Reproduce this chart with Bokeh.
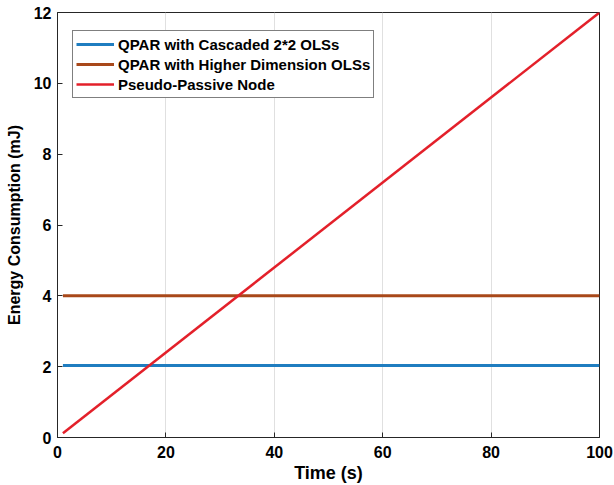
from bokeh.plotting import figure
from bokeh.models import Range1d, Legend, LegendItem, FixedTicker
from bokeh.embed import file_html
from bokeh.resources import INLINE

time_s = [1, 100]
cascaded = [2.03, 2.03]
higher_dim = [4.0, 4.0]
pseudo_passive = [0.12, 12.0]
labels = ["QPAR with Cascaded 2*2 OLSs", "QPAR with Higher Dimension OLSs", "Pseudo-Passive Node"]
colors = ["#1F7DC0", "#A8481A", "#E3202A"]
x_ticks = [0, 20, 40, 60, 80, 100]
y_ticks = [0, 2, 4, 6, 8, 10, 12]

FONT = "Liberation Sans"

p = figure(width=614, height=485, output_backend="svg", toolbar_location=None,
           x_range=Range1d(0, 100), y_range=Range1d(0, 12),
           min_border_left=57, min_border_right=15, min_border_top=12, min_border_bottom=47)

r1 = p.line(time_s, cascaded, line_color=colors[0], line_width=3)
r2 = p.line(time_s, higher_dim, line_color=colors[1], line_width=3)
r3 = p.line(time_s, pseudo_passive, line_color=colors[2], line_width=2.5)

p.xaxis.ticker = FixedTicker(ticks=x_ticks)
p.yaxis.ticker = FixedTicker(ticks=y_ticks)
for ax in (p.xaxis, p.yaxis):
    ax.major_tick_in = 5
    ax.major_tick_out = 0
    ax.minor_tick_line_color = None
    ax.axis_line_color = "#262626"
    ax.major_tick_line_color = "#262626"
    ax.major_label_text_font = FONT
    ax.major_label_text_font_style = "bold"
    ax.major_label_text_font_size = "16px"
    ax.major_label_text_color = "black"
    ax.axis_label_text_font = FONT
    ax.axis_label_text_font_style = "bold"
    ax.axis_label_text_color = "black"
p.xaxis.axis_label = "Time (s)"
p.yaxis.axis_label = "Energy Consumption (mJ)"
p.xaxis.axis_label_text_font_size = "18px"
p.yaxis.axis_label_text_font_size = "16px"
p.xaxis.major_label_standoff = 8
p.yaxis.major_label_standoff = 6
p.xaxis.axis_label_standoff = 2
p.yaxis.axis_label_standoff = 8

p.xgrid.grid_line_color = "#E0E0E0"
p.xgrid.grid_line_width = 1
p.ygrid.grid_line_color = None
p.outline_line_color = "#262626"
p.outline_line_width = 1
p.background_fill_color = "white"
p.border_fill_color = "white"

legend = Legend(items=[LegendItem(label=labels[0], renderers=[r1]),
                       LegendItem(label=labels[1], renderers=[r2]),
                       LegendItem(label=labels[2], renderers=[r3])],
                location=(15, 339))
legend.label_text_font = FONT
legend.label_text_font_style = "bold"
legend.label_text_font_size = "15px"
legend.label_text_color = "black"
legend.padding = 3
legend.spacing = 0
legend.margin = 0
legend.glyph_width = 38
legend.glyph_height = 20
legend.label_height = 20
legend.label_standoff = 4
legend.border_line_color = "black"
legend.border_line_width = 1
legend.background_fill_alpha = 1
p.add_layout(legend, "center")

open("out.html", "w").write(file_html(p, INLINE))
